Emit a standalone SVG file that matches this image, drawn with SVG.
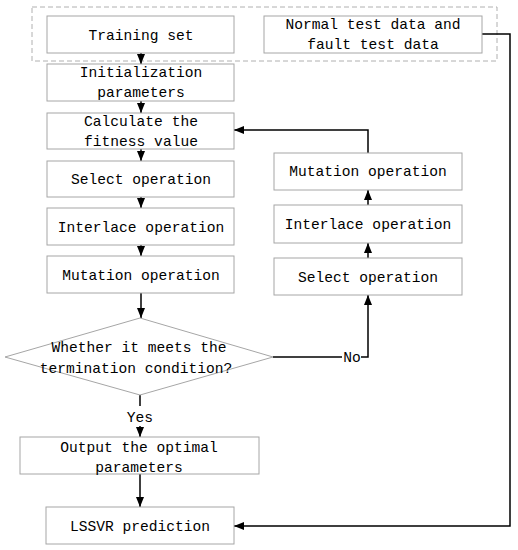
<svg xmlns="http://www.w3.org/2000/svg" width="518" height="550" viewBox="0 0 518 550">
<defs>
<style>
.box{fill:#fff;stroke:#a6a6a6;stroke-width:1}
.t{font-family:"Liberation Mono","DejaVu Sans Mono",monospace;font-size:14.6px;fill:#000;text-anchor:middle}
.c{fill:none;stroke:#000;stroke-width:1.5}
</style>
<marker id="ah" markerUnits="userSpaceOnUse" markerWidth="10" markerHeight="10" viewBox="0 0 10 10" refX="10" refY="5" orient="auto">
<path d="M0,1 L10,5 L0,9 Z" fill="#000"/>
</marker>
</defs>
<rect x="0" y="0" width="518" height="550" fill="#fff"/>
<rect id="group-frame" x="32" y="7" width="465" height="54" fill="none" stroke="#b0b0b0" stroke-width="1" stroke-dasharray="5,3"/>
<g id="connectors">
<path class="c" d="M141,53 V64" marker-end="url(#ah)"/>
<path class="c" d="M141,101 V113" marker-end="url(#ah)"/>
<path class="c" d="M141,149 V161" marker-end="url(#ah)"/>
<path class="c" d="M141,197 V208" marker-end="url(#ah)"/>
<path class="c" d="M141,245 V256" marker-end="url(#ah)"/>
<path class="c" d="M141,293 V318" marker-end="url(#ah)"/>
<path class="c" d="M273,357 H342"/>
<path class="c" d="M361,357 H368 V295" marker-end="url(#ah)"/>
<path class="c" d="M368,258 V243" marker-end="url(#ah)"/>
<path class="c" d="M368,205 V190" marker-end="url(#ah)"/>
<path class="c" d="M368,153 V130 H234" marker-end="url(#ah)"/>
<path class="c" d="M140,395 V406"/>
<path class="c" d="M140,426 V437" marker-end="url(#ah)"/>
<path class="c" d="M140,474 V507" marker-end="url(#ah)"/>
<path class="c" d="M482,34 H510 V526 H234" marker-end="url(#ah)"/>
<text class="t" x="352" y="362">No</text>
<text class="t" x="140" y="422">Yes</text>
</g>
<g id="training-set"><rect class="box" x="47" y="16" width="187" height="37"/><text class="t" x="141" y="40">Training set</text></g>
<g id="test-data"><rect class="box" x="264" y="16" width="218" height="37"/><text class="t" x="373" y="29">Normal test data and</text><text class="t" x="373" y="49">fault test data</text></g>
<g id="init-params"><rect class="box" x="47" y="64" width="187" height="37"/><text class="t" x="141" y="77">Initialization</text><text class="t" x="141" y="97">parameters</text></g>
<g id="fitness"><rect class="box" x="47" y="113" width="187" height="36"/><text class="t" x="141" y="126">Calculate the</text><text class="t" x="141" y="146">fitness value</text></g>
<g id="select-left"><rect class="box" x="47" y="161" width="187" height="36"/><text class="t" x="141" y="184">Select operation</text></g>
<g id="interlace-left"><rect class="box" x="47" y="208" width="187" height="37"/><text class="t" x="141" y="232">Interlace operation</text></g>
<g id="mutation-left"><rect class="box" x="47" y="256" width="187" height="37"/><text class="t" x="141" y="280">Mutation operation</text></g>
<g id="mutation-right"><rect class="box" x="274" y="153" width="188" height="37"/><text class="t" x="368" y="176">Mutation operation</text></g>
<g id="interlace-right"><rect class="box" x="274" y="205" width="188" height="38"/><text class="t" x="368" y="229">Interlace operation</text></g>
<g id="select-right"><rect class="box" x="274" y="258" width="188" height="37"/><text class="t" x="368" y="282">Select operation</text></g>
<g id="decision"><polygon class="box" points="140,318 273,357 140,395 5,357"/><text class="t" x="139" y="352">Whether it meets the</text><text class="t" x="136" y="373">termination condition?</text></g>
<g id="output"><rect class="box" x="20" y="437" width="239" height="37"/><text class="t" x="139" y="452">Output the optimal</text><text class="t" x="139" y="472">parameters</text></g>
<g id="lssvr"><rect class="box" x="46" y="507" width="188" height="37"/><text class="t" x="140" y="531">LSSVR prediction</text></g>
</svg>
